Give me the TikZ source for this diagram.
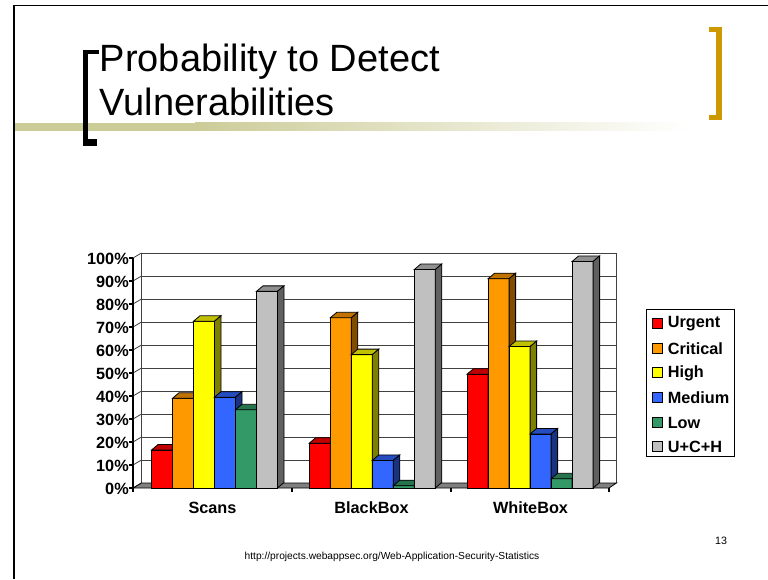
\documentclass[tikz,border=0pt]{standalone}
\usepackage{fontspec}
\setmainfont{Liberation Sans}
\usetikzlibrary{positioning}

% bar colours: front, top, side
\definecolor{bar0}{RGB}{255,0,0}     \definecolor{bar0t}{RGB}{192,0,0}    \definecolor{bar0s}{RGB}{128,0,0}
\definecolor{bar1}{RGB}{255,153,0}   \definecolor{bar1t}{RGB}{192,115,0}  \definecolor{bar1s}{RGB}{128,77,0}
\definecolor{bar2}{RGB}{255,255,0}   \definecolor{bar2t}{RGB}{192,192,0}  \definecolor{bar2s}{RGB}{128,128,0}
\definecolor{bar3}{RGB}{51,102,255}  \definecolor{bar3t}{RGB}{38,77,192}  \definecolor{bar3s}{RGB}{26,51,128}
\definecolor{bar4}{RGB}{51,153,102}  \definecolor{bar4t}{RGB}{38,115,77}  \definecolor{bar4s}{RGB}{26,77,51}
\definecolor{bar5}{RGB}{192,192,192} \definecolor{bar5t}{RGB}{144,144,144} \definecolor{bar5s}{RGB}{96,96,96}
\definecolor{khaki}{RGB}{204,204,153}
\definecolor{gold}{RGB}{204,153,0}

% one 3d bar: left x, value, colour index
\newcommand{\drawbar}[3]{%
  \pgfmathsetmacro{\bt}{488-2.3*#2}%
  \filldraw[bar#3, draw=black, line width=0.6pt] (#1,488) rectangle (#1+21,\bt);
  \filldraw[bar#3t, draw=black, line width=0.6pt] (#1,\bt) -- (#1+21,\bt) -- (#1+27.5,\bt-5.5) -- (#1+6.5,\bt-5.5) -- cycle;
  \filldraw[bar#3s, draw=black, line width=0.6pt] (#1+21,488) -- (#1+21,\bt) -- (#1+27.5,\bt-5.5) -- (#1+27.5,482.5) -- cycle;
}

\begin{document}
\begin{tikzpicture}[
    x=0.75pt, y=-0.75pt,
    title/.style={inner sep=0pt, anchor=base west, font=\fontsize{28.5}{34}\selectfont},
    axlabel/.style={inner sep=0pt, font=\fontsize{12.2}{14}\selectfont\bfseries},
    legitem/.style={axlabel, anchor=west},
    grid/.style={draw=black!75, line width=0.6pt}
]
    \useasboundingbox (0,0) rectangle (768,579);

    % slide frame
    \draw[line width=1.5pt] (14,579) -- (14,5.5);
    \draw[line width=0.8pt] (13,5.5) -- (768,5.5);

    % title band
    \fill[khaki] (15,122.7) rectangle (195,130.7);
    \shade[left color=khaki, right color=white] (195,122.7) rectangle (690,130.7);

    % brackets
    \fill[black] (82.7,50) rectangle (88.3,146);
    \fill[black] (82.7,50) rectangle (99.3,54.3);
    \fill[black] (82.7,139) rectangle (97.3,146);
    \fill[gold] (716,27) rectangle (722,120);
    \fill[gold] (709,27) rectangle (722,32);
    \fill[gold] (709,115) rectangle (722,120);

    \node[title] (title1) at (99.5,71) {Probability to Detect};
    \node[title] (title2) at (99.5,115) {Vulnerabilities};

    % back wall and grid
    \foreach \k in {1,...,10}
        \draw[grid] (141.5,483-23*\k) -- (616.5,483-23*\k);
    \draw[grid] (141.5,483) -- (141.5,253);
    \draw[grid] (616.5,483) -- (616.5,253);

    % left wall, value axis, ticks and labels
    \foreach \k in {0,...,10} {
        \draw[grid] (133,488-23*\k) -- (141.5,483-23*\k);
        \draw[line width=0.8pt] (129,488-23*\k) -- (133,488-23*\k);
        \pgfmathtruncatemacro{\pct}{10*\k}
        \node[axlabel, anchor=east] (ylab\k) at (129,489-23*\k) {\pct\%};
    }
    \draw[line width=0.9pt] (133,488) -- (133,258);

    % floor
    \filldraw[fill=black!50, draw=black, line width=0.6pt] (133,488) -- (609,488) -- (616.5,483) -- (141.5,483) -- cycle;
    \foreach \xt in {133,292,451,609}
        \draw[line width=0.8pt] (\xt,488) -- (\xt,492);

    % bars
    \foreach \xs/\vals [count=\j] in {151.5/{16.5,39,72.5,39.5,34,85.5},
                                      309.3/{19.5,74,58,12,1,95},
                                      467.1/{49.5,91,61.5,23.5,4,98.5}} {
        \foreach \v [count=\i from 0] in \vals {
            \pgfmathsetmacro{\bx}{\xs+21*\i}
            \drawbar{\bx}{\v}{\i}
        }
    }

    % category labels
    \node[axlabel] (cat1) at (212.5,508) {Scans};
    \node[axlabel] (cat2) at (371.5,508) {BlackBox};
    \node[axlabel] (cat3) at (530.5,508) {WhiteBox};

    % legend
    \draw[line width=0.6pt] (646.7,309.3) rectangle (734,456.7);
    \foreach \name [count=\i from 0] in {Urgent,Critical,High,Medium,Low,U+C+H} {
        \filldraw[bar\i, draw=black, line width=0.6pt] (652.7,318.3+24.7*\i) rectangle (662.7,328.3+24.7*\i);
        \node[legitem] (leg\i) at (667.5,323.8+24.7*\i) {\name};
    }

    % footer
    \node[inner sep=0pt, font=\fontsize{7.65}{9}\selectfont] (source) at (392,557) {http://projects.webappsec.org/Web-Application-Security-Statistics};
    \node[inner sep=0pt, font=\fontsize{8}{9}\selectfont] (pagenum) at (721,541) {13};
\end{tikzpicture}
\end{document}
